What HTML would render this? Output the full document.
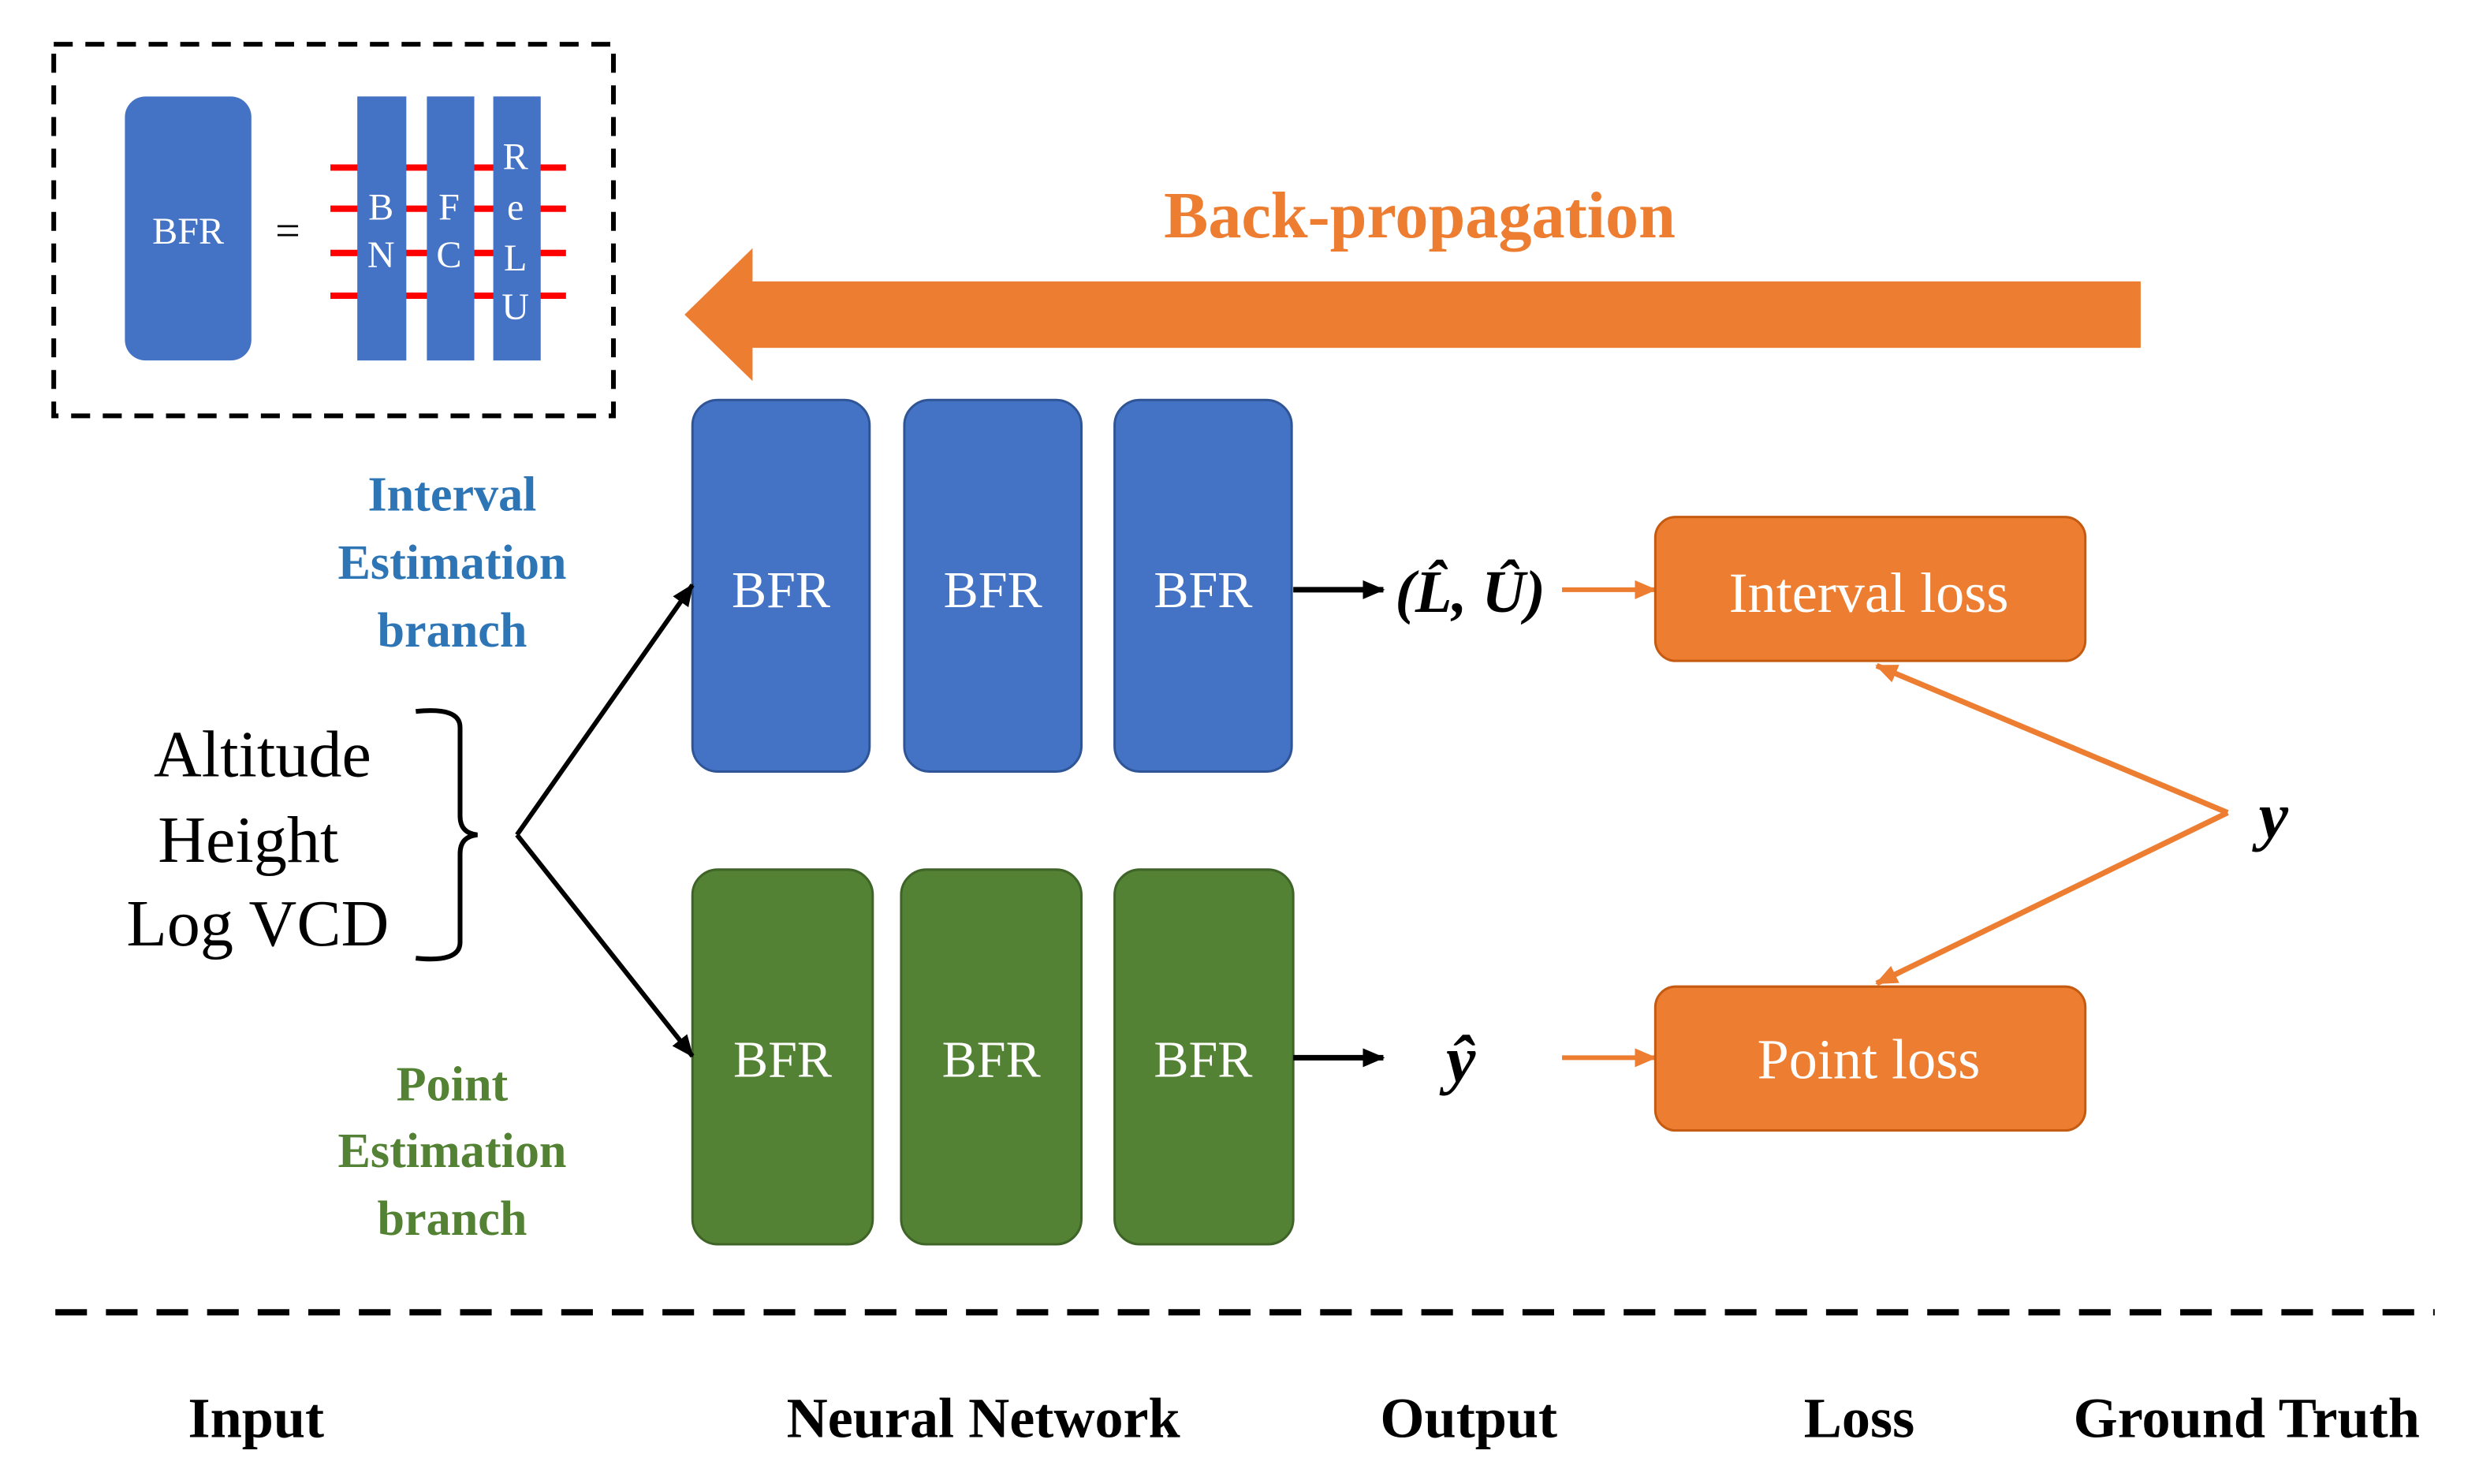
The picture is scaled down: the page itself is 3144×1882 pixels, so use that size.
<!DOCTYPE html>
<html><head><meta charset="utf-8"><style>html,body{margin:0;padding:0;background:#fff;}svg{display:block}
svg text{font-family:"Liberation Serif","DejaVu Serif",serif;}</style></head>
<body>
<svg width="3144" height="1882" viewBox="0 0 1568 938.6" xmlns="http://www.w3.org/2000/svg">
<defs>
<marker id="ab" markerWidth="14" markerHeight="12" refX="13" refY="6" orient="auto" markerUnits="userSpaceOnUse"><path d="M0,0 L14,6 L0,12 z" fill="#000"/></marker>
<marker id="ao" markerWidth="14" markerHeight="12" refX="13" refY="6" orient="auto" markerUnits="userSpaceOnUse"><path d="M0,0 L14,6 L0,12 z" fill="#ED7D31"/></marker>
</defs>
<rect x="34" y="28" width="354" height="235" fill="none" stroke="#000" stroke-width="3" stroke-dasharray="12 8"/>
<rect x="79" y="61" width="80" height="167" rx="13" fill="#4472C4"/>
<text x="119" y="154" font-size="24" fill="#fff" text-anchor="middle">BFR</text>
<text x="182" y="155" font-size="28" fill="#000" text-anchor="middle">=</text>
<g stroke="#FF0000" stroke-width="4">
<line x1="209" y1="106" x2="358" y2="106"/><line x1="209" y1="132" x2="358" y2="132"/>
<line x1="209" y1="160" x2="358" y2="160"/><line x1="209" y1="187" x2="358" y2="187"/>
</g>
<rect x="226" y="61" width="31" height="167" fill="#4472C4"/>
<rect x="270" y="61" width="30" height="167" fill="#4472C4"/>
<rect x="312" y="61" width="30" height="167" fill="#4472C4"/>
<g font-size="24" fill="#fff" text-anchor="middle">
<text x="241" y="139">B</text><text x="241" y="169">N</text>
<text x="284" y="139">F</text><text x="284" y="169">C</text>
<text x="326" y="107">R</text><text x="326" y="139">e</text><text x="326" y="171">L</text><text x="326" y="202">U</text>
</g>
<text x="898" y="150" font-size="42" font-weight="bold" fill="#ED7D31" text-anchor="middle">Back-propagation</text>
<path d="M1354,178 L476,178 L476,157 L433,199 L476,241 L476,220 L1354,220 z" fill="#ED7D31"/>
<g font-size="31" font-weight="bold" fill="#2E75B6" text-anchor="middle">
<text x="286" y="323">Interval</text><text x="286" y="366">Estimation</text><text x="286" y="409">branch</text>
</g>
<g font-size="31" font-weight="bold" fill="#548235" text-anchor="middle">
<text x="286" y="696">Point</text><text x="286" y="738">Estimation</text><text x="286" y="781">branch</text>
</g>
<g fill="#4472C4" stroke="#2F5597" stroke-width="1.5">
<rect x="438" y="253" width="112" height="235" rx="16"/>
<rect x="572" y="253" width="112" height="235" rx="16"/>
<rect x="705" y="253" width="112" height="235" rx="16"/>
</g>
<g fill="#548235" stroke="#3f6428" stroke-width="1.5">
<rect x="438" y="550" width="114" height="237" rx="16"/>
<rect x="570" y="550" width="114" height="237" rx="16"/>
<rect x="705" y="550" width="113" height="237" rx="16"/>
</g>
<g font-size="33" fill="#fff" text-anchor="middle">
<text x="494" y="384">BFR</text><text x="628" y="384">BFR</text><text x="761" y="384">BFR</text>
<text x="495" y="681">BFR</text><text x="627" y="681">BFR</text><text x="761" y="681">BFR</text>
</g>
<g font-size="42" fill="#000" text-anchor="middle">
<text x="166" y="491">Altitude</text><text x="157" y="545">Height</text><text x="163" y="598">Log VCD</text>
</g>
<path d="M263,450 Q291,447 291,460 L291,516 Q291,527 302,528 Q291,529 291,540 L291,596 Q291,609 263,606" fill="none" stroke="#000" stroke-width="3"/>
<line x1="327" y1="528" x2="438" y2="370" stroke="#000" stroke-width="3" marker-end="url(#ab)"/>
<line x1="327" y1="528" x2="438" y2="668" stroke="#000" stroke-width="3" marker-end="url(#ab)"/>
<line x1="818" y1="373" x2="875" y2="373" stroke="#000" stroke-width="3.5" marker-end="url(#ab)"/>
<line x1="818" y1="669" x2="875" y2="669" stroke="#000" stroke-width="3.5" marker-end="url(#ab)"/>
<text x="930" y="387" font-size="38" font-weight="bold" font-style="italic" text-anchor="middle">(L̂, Û)</text>
<text x="924" y="684" font-size="42" font-weight="bold" font-style="italic" text-anchor="middle">ŷ</text>
<line x1="988" y1="373" x2="1047" y2="373" stroke="#ED7D31" stroke-width="3" marker-end="url(#ao)"/>
<line x1="988" y1="669" x2="1047" y2="669" stroke="#ED7D31" stroke-width="3" marker-end="url(#ao)"/>
<rect x="1047" y="327" width="272" height="91" rx="13" fill="#ED7D31" stroke="#C55A11" stroke-width="1.5"/>
<rect x="1047" y="624" width="272" height="91" rx="13" fill="#ED7D31" stroke="#C55A11" stroke-width="1.5"/>
<text x="1182" y="387" font-size="36" fill="#fff" text-anchor="middle">Interval loss</text>
<text x="1182" y="682" font-size="36" fill="#fff" text-anchor="middle">Point loss</text>
<text x="1438" y="530" font-size="42" font-weight="bold" font-style="italic" text-anchor="middle">y</text>
<line x1="1409" y1="514" x2="1187" y2="421" stroke="#ED7D31" stroke-width="3.5" marker-end="url(#ao)"/>
<line x1="1409" y1="514" x2="1187" y2="622" stroke="#ED7D31" stroke-width="3.5" marker-end="url(#ao)"/>
<line x1="35" y1="830" x2="1540" y2="830" stroke="#000" stroke-width="4" stroke-dasharray="20 12"/>
<g font-size="36" font-weight="bold" fill="#000" text-anchor="middle">
<text x="162" y="909">Input</text><text x="622" y="909">Neural Network</text><text x="929" y="909">Output</text>
<text x="1176" y="909">Loss</text><text x="1421" y="909">Ground Truth</text>
</g>
</svg>
</body></html>
